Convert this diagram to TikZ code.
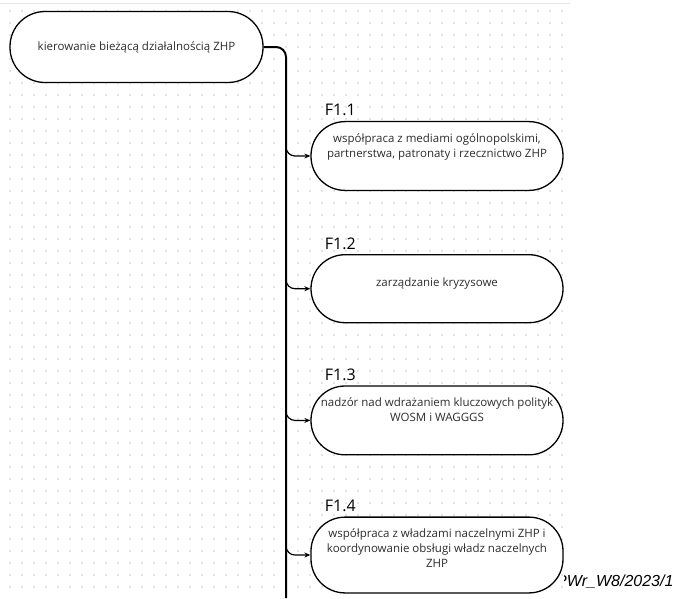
\documentclass[tikz,border=0pt]{standalone}
\usepackage{fontspec}
\setmainfont{Open Sans}
\newfontfamily\docidfont{Liberation Sans}
\usetikzlibrary{arrows.meta, positioning}
\definecolor{dotgrey}{RGB}{200,200,200}
\definecolor{linegrey}{RGB}{228,228,228}
\definecolor{inkgrey}{RGB}{45,45,45}

\begin{document}
\begin{tikzpicture}[
        x=1pt, y=-1pt,
        rootbox/.style={draw, line width=1.3pt, fill=white, rounded corners=35pt,
                    minimum width=253pt, minimum height=71pt, align=center,
                    font=\fontsize{11.5}{15}\selectfont, text=inkgrey},
        box/.style={draw, line width=1.3pt, fill=white, rounded corners=34pt,
                    minimum width=252pt, minimum height=68pt, inner xsep=0pt, inner ysep=12pt,
                    text depth=13pt, align=center, font=\fontsize{11.5}{15}\selectfont, text=inkgrey},
        tag/.style={anchor=base west, font=\fontsize{16}{19}\selectfont},
        arrow/.style={-{Stealth[length=6pt, width=5pt]}, line width=1.2pt, rounded corners=9pt},
        trunkline/.style={line width=2pt, rounded corners=10pt}
      ]
        \useasboundingbox (0,0) rectangle (678,598);
        % dotted grid of the canvas
        \foreach \i in {0,...,46}
          \foreach \j in {0,...,48}
            \fill[dotgrey] (10+12*\i, 11+12*\j) circle (0.8pt);
        \draw[linegrey, line width=0.8pt] (0,3) -- (570,3);

        \node[rootbox] (root) at (136.5,47) {kierowanie bieżącą działalnością ZHP};
        \node[box, text depth=21pt] (f11) at (437,156)
              {współpraca z mediami ogólnopolskimi,\\partnerstwa, patronaty i rzecznictwo ZHP};
        \node[box, below=63pt of f11] (f12) {zarządzanie kryzysowe};
        \node[box, text depth=21pt, below=62pt of f12]
              (f13) {nadzór nad wdrażaniem kluczowych polityk\\WOSM i WAGGGS};
        \node[box, below=61pt of f13]
              (f14) {współpraca z władzami naczelnymi ZHP i\\koordynowanie obsługi władz naczelnych\\ZHP};
        \node[tag] (t11) at ([xshift=11pt, yshift=5pt]f11.north west) {F1.1};
        \node[tag] (t12) at ([xshift=11pt, yshift=5pt]f12.north west) {F1.2};
        \node[tag] (t13) at ([xshift=11pt, yshift=5pt]f13.north west) {F1.3};
        \node[tag] (t14) at ([xshift=11pt, yshift=5pt]f14.north west) {F1.4};

        \coordinate (trunkend) at (286,598);
        \draw[trunkline] (root.east) -| (trunkend);
        \draw[arrow] (trunkend |- f11.west) ++(0,-12) |- (f11.west);
        \draw[arrow] (trunkend |- f12.west) ++(0,-12) |- (f12.west);
        \draw[arrow] (trunkend |- f13.west) ++(0,-12) |- (f13.west);
        \draw[arrow] (trunkend |- f14.west) ++(0,-12) |- (f14.west);

        \begin{scope}
          \clip (564,560) rectangle (678,598);
          \node[anchor=base east, font=\docidfont\fontsize{16}{19}\itshape] (docid) at (677,586) {PWr\_W8/2023/1};
        \end{scope}
      \end{tikzpicture}
\end{document}
